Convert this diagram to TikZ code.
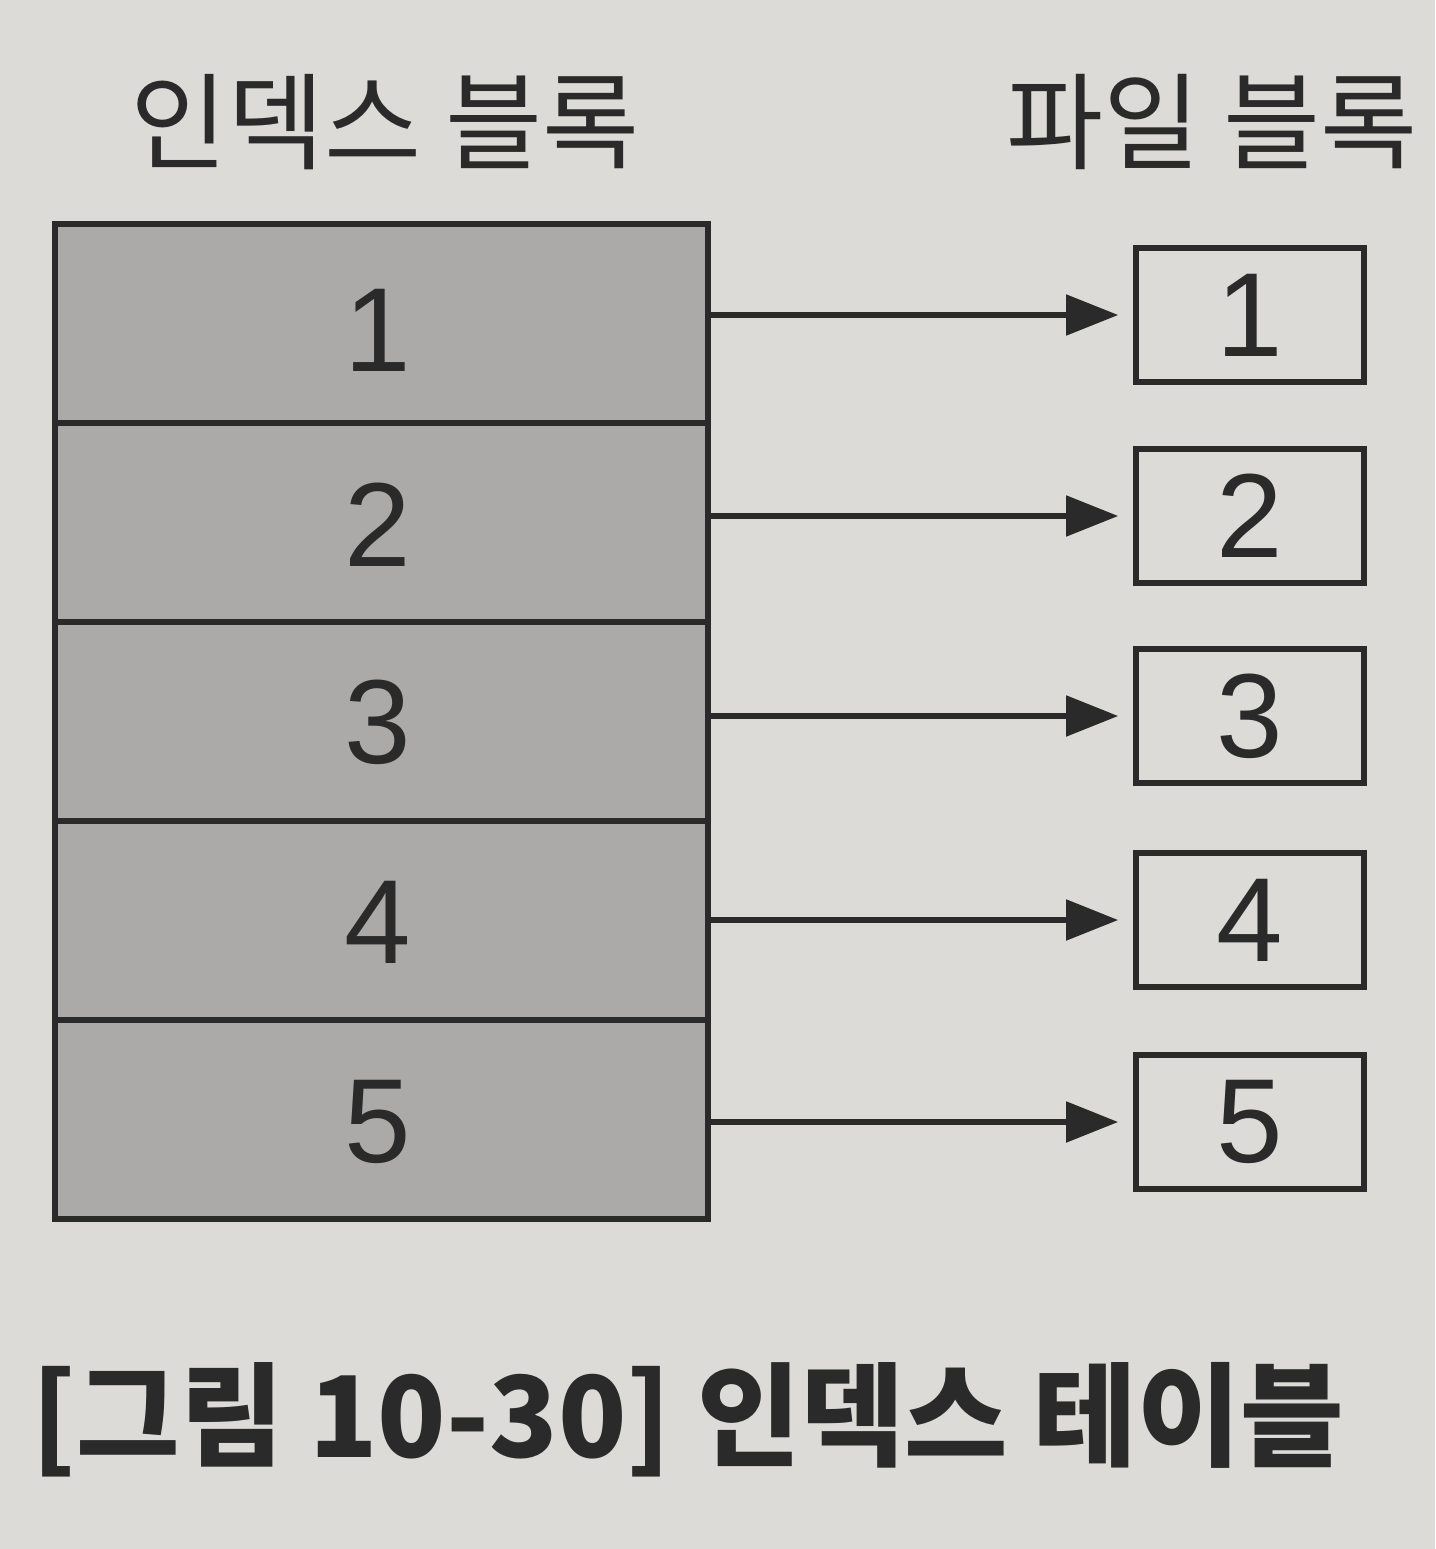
\documentclass[tikz,border=0pt]{standalone}
\usepackage{fontspec}
\setmainfont{Liberation Sans}
\newfontfamily\kr{Noto Sans CJK KR}
\usetikzlibrary{arrows.meta}
\definecolor{bg}{HTML}{DCDBD8}
\definecolor{idxfill}{HTML}{ABAAA8}
\definecolor{ink}{HTML}{2A2A2A}
\tikzset{
  idxrow/.style={draw=ink, line width=1.6pt, fill=idxfill, minimum width=6.53cm, minimum height=1.99cm, inner sep=0pt, font=\fontsize{34}{34}\selectfont, text=ink},
  fblock/.style={draw=ink, line width=1.6pt, fill=bg, minimum width=2.28cm, minimum height=1.34cm, inner sep=0pt, font=\fontsize{34}{34}\selectfont, text=ink},
  link/.style={draw=ink, line width=1.5pt, -{Triangle[length=0.52cm, width=0.4cm]}},
  hdr/.style={font=\kr\fontsize{30}{30}\selectfont, text=ink, inner sep=0pt},
}
\begin{document}
\begin{tikzpicture}[x=0.01cm, y=-0.01cm]
\fill[bg] (0,0) rectangle (1435,1549);
\useasboundingbox (0,0) rectangle (1435,1549);
\node[hdr] (h1) at (385,122) {인덱스 블록};
\node[hdr] (h2) at (1212,122) {파일 블록};
\foreach \i/\y in {1/323.5,2/522.5,3/721.5,4/920.5,5/1119.5} {
  \node[idxrow] (r\i) at (381.5,\y) {};
}
\foreach \i/\y in {1/315,2/516,3/716,4/920,5/1122} {
  \node[fblock] (f\i) at (1250,\y) {\i};
}
\foreach \i/\y in {1/330,2/525,3/722,4/922,5/1122} {
  \node[font=\fontsize{34}{34}\selectfont, text=ink, inner sep=0pt] (n\i) at (378,\y) {\i};
}
\foreach \i in {1,...,5} {
  \draw[link] (r\i.east |- f\i.west) -- ([xshift=-0.15cm]f\i.west);
}
\node[font=\kr\fontsize{32}{32}\selectfont\bfseries, text=ink, inner sep=0pt] (cap) at (688,1420) {[그림 10-30] 인덱스 테이블};
\end{tikzpicture}
\end{document}
